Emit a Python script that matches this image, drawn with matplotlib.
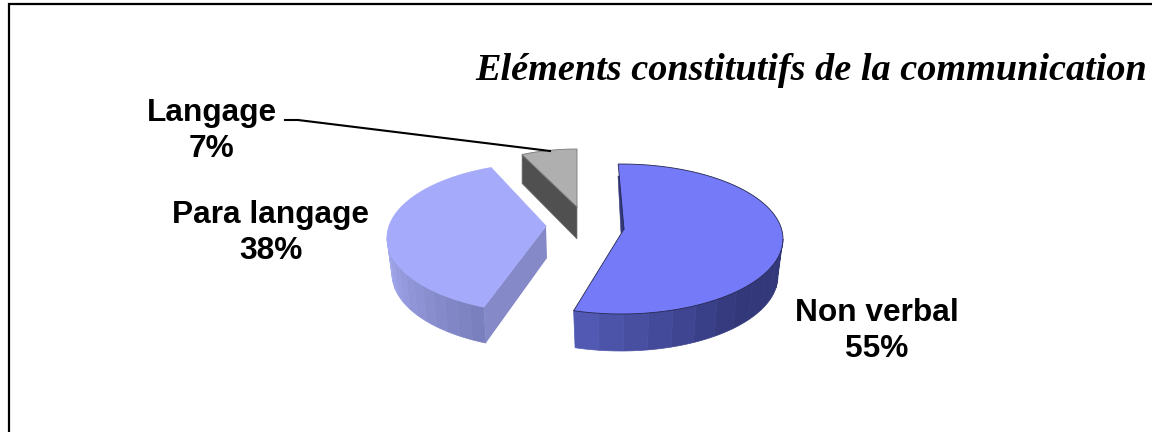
import numpy as np
import matplotlib
matplotlib.use("Agg")
import matplotlib.pyplot as plt
from matplotlib.colors import to_rgb

title = "Eléments constitutifs de la communication"
categories = ["Non verbal", "Para langage", "Langage"]
values = [55, 38, 7]

top_colors = ["#757BF8", "#A5AAFA", "#AFAFAF"]
cut_colors = ["#33387A", "#8589C8", "#505050"]
edge_colors = ["#23264F", "#A5AAFA", "#777777"]
wall_colors = [("#5159B2", "#33387A"), ("#7A7FBE", "#A3A8EE"), ("#505050", "#505050")]

# exploded slices, in pixels: ellipse centre, apex, radii, rotation, wall depth
centers = [(621, 239), (546, 238), (577, 207)]
apexes = [(624, 229), (546, 226), (577, 207)]
radii_x = [162, 159, 129]
radii_y = [75, 75, 58]
rotations = [-1, 5, 0]
depths = [37, 36, 31]
shrink = [5, 5, 0]

label_pos = [(877, 331), (271, 233), (212, 131)]


def arc(cx, cy, rx, ry, a0, a1, n=80):
    # angles run clockwise from the top of the ellipse
    t = np.radians(np.linspace(a0, a1, n))
    return cx + rx * np.sin(t), cy - ry * np.cos(t)


fig = plt.figure(figsize=(11.52, 4.32), dpi=100)
ax = fig.add_axes([0, 0, 1, 1])
ax.set_xlim(0, 1152)
ax.set_ylim(432, 0)
ax.axis("off")

# frame around the chart area
ax.plot([9, 9, 1152], [432, 4, 4], color="black", lw=1.6, solid_joinstyle="miter")

sweeps = np.array(values) / sum(values) * 360
starts = np.concatenate([[0], np.cumsum(sweeps)[:-1]])

for i in [2, 1, 0]:
    cx, cy = centers[i]
    ax_, ay_ = apexes[i]
    rx, ry = radii_x[i], radii_y[i]
    a0 = starts[i] + rotations[i]
    a1 = a0 + sweeps[i]
    d = depths[i]

    # outer wall, front half of the ellipse only
    w0, w1 = max(a0, 90), min(a1, 270)
    if w1 > w0:
        steps = 12
        edges = np.linspace(w0, w1, steps + 1)
        c_from = np.array(to_rgb(wall_colors[i][0]))
        c_to = np.array(to_rgb(wall_colors[i][1]))
        for k in range(steps):
            x1, y1 = arc(cx, cy, rx, ry, edges[k], edges[k + 1], 12)
            x2, y2 = arc(cx, cy + d, rx - shrink[i], ry, edges[k], edges[k + 1], 12)
            if i == 0:
                # dark side reached about halfway along
                f = min(1, (steps - 1 - k) / (steps * 0.55))
            else:
                f = k / (steps - 1)
            col = c_from + (c_to - c_from) * f
            ax.fill(np.r_[x1, x2[::-1]], np.r_[y1, y2[::-1]], color=col, lw=0.5)

    xs, ys = arc(cx, cy, rx, ry, a0, a1)

    # cut face that looks toward the viewer
    if i == 1:
        ax.fill([ax_, xs[0], xs[0] + 2, ax_ + 1], [ay_, ys[0], ys[0] + d, ay_ + d - 4],
                color=cut_colors[i], lw=0)
    if i == 2:
        ax.fill([ax_, xs[0], xs[0], ax_], [ay_, ys[0], ys[0] + d - 2, ay_ + d + 1],
                color=cut_colors[i], ec="#777777", lw=0.5)

    if i == 0:
        # sliver of the far cut face
        ax.fill([618, 620, 624, 621], [176, 176, 229, 233], color=cut_colors[0], lw=0.4)

    ax.fill(np.r_[ax_, xs], np.r_[ay_, ys], color=top_colors[i], lw=0)
    ax.plot(np.r_[ax_, xs, ax_], np.r_[ay_, ys, ay_], color=edge_colors[i], lw=0.6)

# leader line for the smallest slice
ax.plot([285, 298, 550], [120, 120, 151], color="black", lw=1.5)

for name, val, (x, y) in zip(categories, values, label_pos):
    ax.text(x, y, f"{name}\n{val}%", ha="center", va="center", fontsize=22.8,
            fontweight="bold", family="Liberation Sans", linespacing=1.25, color="black")

ax.text(1147, 70, title, ha="right", va="center", fontsize=27.5, fontweight="bold",
        style="italic", family="Liberation Serif", color="black")

fig.savefig("out.png", dpi=100)
